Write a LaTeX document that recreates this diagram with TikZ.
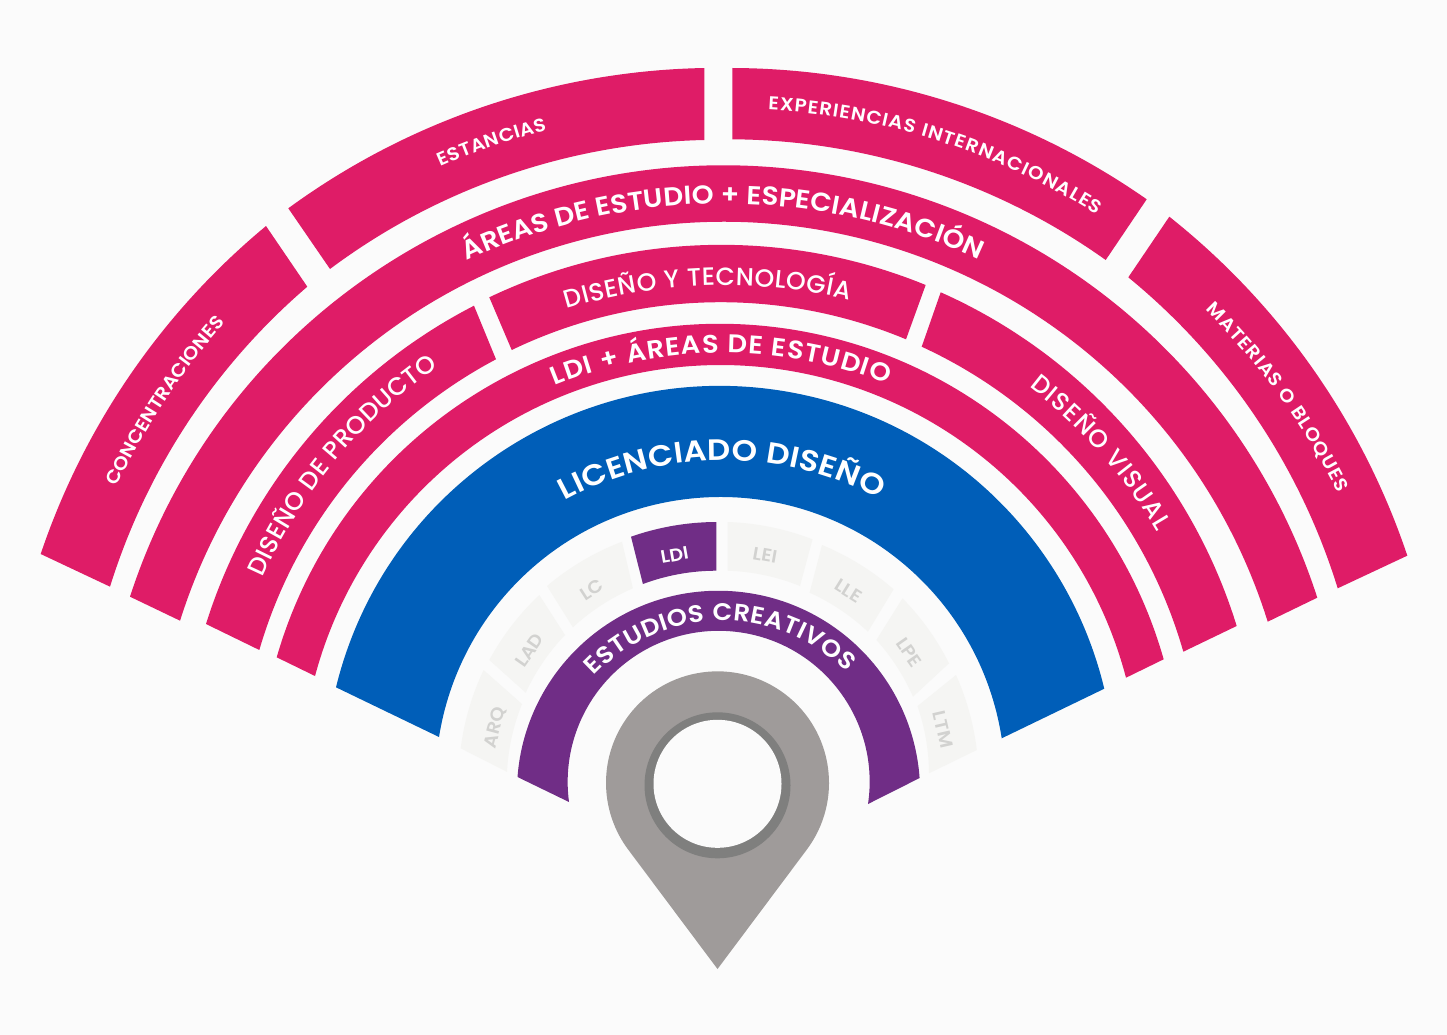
\documentclass[tikz,border=0pt]{standalone}
\usepackage{fontspec}
\setmainfont{Poppins}
\newfontfamily\medfont{Poppins Medium}
\newfontfamily\semifont[FakeStretch=1.07]{Poppins SemiBold}
\newfontfamily\widefont[FakeStretch=1.1]{Poppins SemiBold}
\usetikzlibrary{svg.path,decorations.text}
\definecolor{paper}{HTML}{FBFBFB}
\definecolor{hotpink}{HTML}{DF1C67}
\definecolor{deepblue}{HTML}{005EB8}
\definecolor{royal}{HTML}{702D86}
\definecolor{pale}{HTML}{F5F5F3}
\definecolor{paletext}{HTML}{D2D2D0}
\definecolor{pingray}{HTML}{9F9B9A}
\definecolor{pinring}{HTML}{7F7F7E}
\newcommand{\smalllabel}{\fontsize{18.5}{18.5}\semifont}
\newcommand{\midlabel}{\fontsize{25}{25}\medfont}
\newcommand{\biglabel}{\fontsize{26}{26}\semifont}
\newcommand{\ringlabel}{\fontsize{25.5}{25.5}\semifont}
\newcommand{\purplelabel}{\fontsize{24}{24}\semifont}
\newcommand{\hugelabel}{\fontsize{29.5}{29.5}\widefont}
\tikzset{
  arclabel/.style 2 args={decorate,decoration={text along path,text align={fit to path},text color=white,text={|#1|#2}}},
  tab/.style={font=\fontsize{18}{18}\semifont,text=paletext,inner sep=0pt}
}
\begin{document}
\begin{tikzpicture}[x=1pt,y=1pt]
\fill[paper] (0,-1035) rectangle (1447,0);
\fill[hotpink] svg {M 40.7 -554 A 728 728 0 0 0 266 -226 L 307.3 -286.7 A 650 650 0 0 1 110 -586.7 Z};
\fill[hotpink] svg {M 288.3 -208.3 A 728 728 0 0 0 704.3 -68 L 704.3 -140 A 650 650 0 0 1 330 -269 Z};
\fill[hotpink] svg {M 732.3 -68 A 728 728 0 0 0 1146.7 -199.3 L 1105.7 -260 A 650 650 0 0 1 732.3 -139.3 Z};
\fill[hotpink] svg {M 1169.3 -216.7 A 728 728 0 0 0 1407.3 -555.7 L 1337.7 -588.3 A 650 650 0 0 1 1128.3 -277.3 Z};
\fill[hotpink] svg {M 130 -596.7 A 624 624 0 0 0 1317.3 -597.7 L 1267.7 -621.7 A 570 570 0 0 1 180 -620.7 Z};
\fill[hotpink] svg {M 206 -624 A 539.5 539.5 0 0 0 474 -305.7 L 496 -359.3 A 481 481 0 0 1 259.3 -650 Z};
\fill[hotpink] svg {M 489.3 -297.3 A 539.5 539.5 0 0 0 925.7 -285 L 906 -339.3 A 481 481 0 0 1 511.7 -350 Z};
\fill[hotpink] svg {M 940.7 -292.3 A 539.5 539.5 0 0 0 1236.7 -626 L 1183.3 -651.7 A 481 481 0 0 1 921.7 -346.7 Z};
\fill[hotpink] svg {M 276.7 -657.3 A 461.3 461.3 0 0 0 1163.7 -659.3 L 1126 -677.7 A 419.6 419.6 0 0 1 315 -676 Z};
\fill[deepblue] svg {M 336 -687.3 A 395.3 395.3 0 0 0 1104.3 -688.7 L 1001.7 -738.3 A 284.8 284.8 0 0 1 439 -737 Z};
\fill[royal] svg {M 517.5 -777 A 201.6 201.6 0 0 0 919.6 -778 L 868 -804 A 151 151 0 1 1 569 -802 Z};
\fill[pale] svg {M 460.7 -748.3 A 260 260 0 0 0 483.6 -670 L 522 -704 A 211 211 0 0 1 507 -771.7 Z};
\fill[pale] svg {M 489.3 -660 A 260 260 0 0 0 539.3 -595 L 565 -635 A 211 211 0 0 1 525.7 -692.7 Z};
\fill[pale] svg {M 547 -586 A 260 260 0 0 0 622 -541.7 L 632.9 -588.3 A 211 211 0 0 1 572.9 -627.3 Z};
\fill[royal] svg {M 631 -536.7 A 260 260 0 0 0 716.4 -522 L 716.4 -570.7 A 211 211 0 0 1 642.9 -584 Z};
\fill[pale] svg {M 727.5 -522 A 260 260 0 0 0 812.5 -539.3 L 800 -586 A 211 211 0 0 1 727.5 -570.7 Z};
\fill[pale] svg {M 822 -545 A 260 260 0 0 0 893.6 -589.3 L 867.9 -631.7 A 211 211 0 0 1 809.6 -592.7 Z};
\fill[pale] svg {M 902.5 -598.3 A 260 260 0 0 0 949 -663.3 L 913 -696.7 A 211 211 0 0 1 876.4 -640 Z};
\fill[pale] svg {M 956 -675 A 260 260 0 0 0 976.8 -750 L 929 -773.3 A 211 211 0 0 1 917.5 -708.3 Z};
\node[tab,rotate=75] (arq) at (495.4,-727.7) {ARQ};
\node[tab,rotate=55] (lad) at (529.3,-650) {LAD};
\node[tab,rotate=33] (lc) at (591.8,-589.3) {LC};
\node[tab,rotate=10,text=white] (ldi) at (674.6,-555) {LDI};
\node[tab,rotate=-10] (lei) at (765,-555) {LEI};
\node[tab,rotate=-32] (lle) at (848.2,-590.7) {LLE};
\node[tab,rotate=-55] (lpe) at (909,-652.3) {LPE};
\node[tab,rotate=-77] (ltm) at (942.9,-729.3) {LTM};
\path[arclabel={\smalllabel}{CONCENTRACIONES}] svg {M 117 -487 A 678 678 0 0 0 225 -323};
\path[arclabel={\smalllabel}{ESTANCIAS}] svg {M 441 -167 A 680 680 0 0 0 547 -130};
\path[arclabel={\smalllabel}{EXPERIENCIAS INTERNACIONALES}] svg {M 768 -110 A 680 680 0 0 0 1097 -215};
\path[arclabel={\smalllabel}{MATERIAS O BLOQUES}] svg {M 1205 -310 A 680 680 0 0 0 1338 -493};
\path[arclabel={\biglabel}{ÁREAS DE ESTUDIO + ESPECIALIZACIÓN}] svg {M 467 -261 A 605 605 0 0 0 979 -260};
\path[arclabel={\midlabel}{DISEÑO Y TECNOLOGÍA}] svg {M 567 -309 A 540 540 0 0 0 849 -300};
\path[arclabel={\midlabel}{DISEÑO DE PRODUCTO}] svg {M 263 -578 A 503 503 0 0 0 438 -367};
\path[arclabel={\midlabel}{DISEÑO VISUAL}] svg {M 1029 -387 A 503 503 0 0 0 1157 -532};
\path[arclabel={\ringlabel}{LDI + ÁREAS DE ESTUDIO}] svg {M 555 -386 A 445 445 0 0 0 887 -384};
\path[arclabel={\hugelabel}{LICENCIADO DISEÑO}] svg {M 565 -501 A 331 331 0 0 0 879 -499};
\path[arclabel={\purplelabel}{ESTUDIOS CREATIVOS}] svg {M 594 -676 A 177 177 0 0 0 847 -672};
\fill[pingray] svg {M 717.5 -969 L 806.5 -850 A 111.5 111.5 0 1 1 628.5 -850 Z};
\fill[pinring] (717.5,-785.3) circle[radius=73];
\fill[paper] (717.5,-783.8) circle[radius=64];
\end{tikzpicture}
\end{document}
